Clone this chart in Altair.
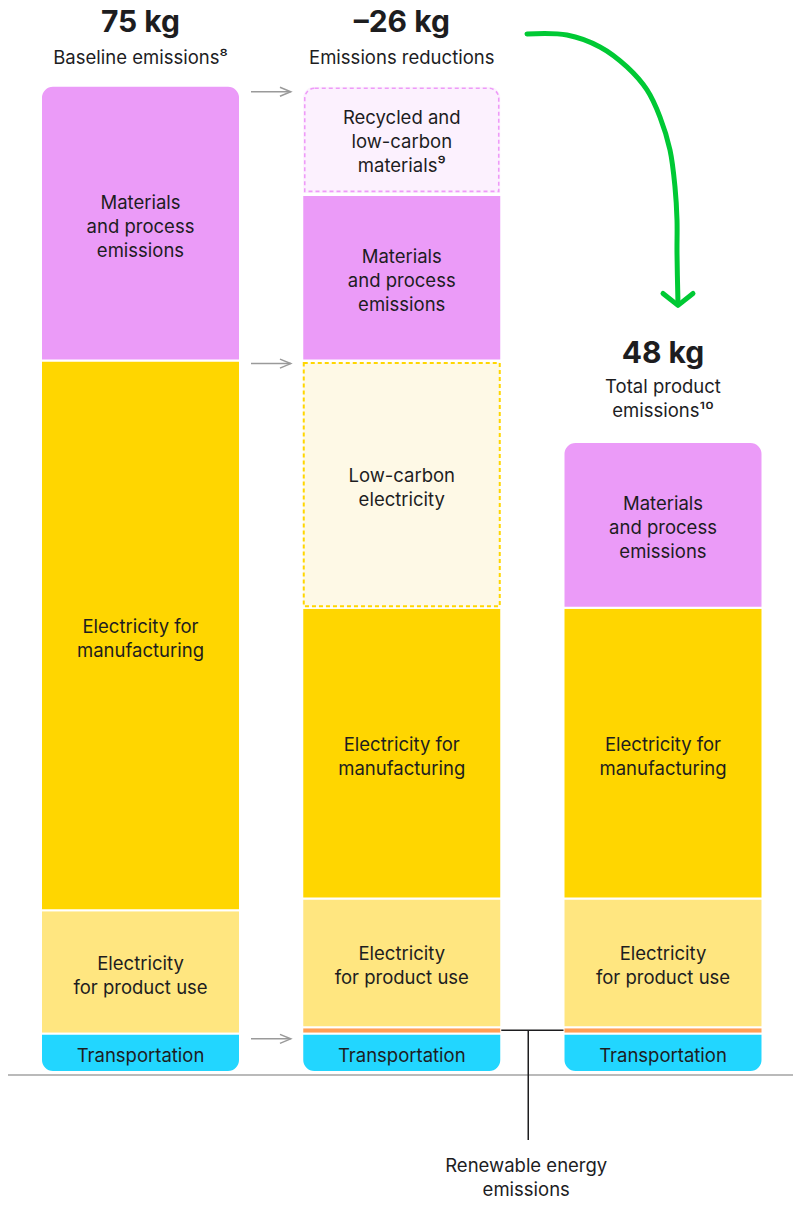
import altair as alt
import pandas as pd

# ---------------- data (kg CO2e) ----------------
col_ids = [0, 1, 2]
headlines = ["75 kg", "\u201326 kg", "48 kg"]
subtitles = ["Baseline emissions\u2078", "Emissions reductions", "Total product\nemissions\u00b9\u2070"]

baseline_segments = ["Transportation", "Electricity for product use",
                     "Electricity for manufacturing", "Materials and process emissions"]
baseline_values = [2.9, 9.4, 41.8, 20.9]

reduction_segments = ["Transportation", "Renewable energy emissions", "Electricity for product use",
                      "Electricity for manufacturing", "Low-carbon electricity",
                      "Materials and process emissions", "Recycled and low-carbon materials"]
reduction_values = [2.9, 0.5, 9.8, 22.1, 18.8, 12.6, 8.3]

total_segments = ["Transportation", "Renewable energy emissions", "Electricity for product use",
                  "Electricity for manufacturing", "Materials and process emissions"]
total_values = [2.9, 0.5, 9.8, 22.1, 12.6]

segment_labels = {
    "Transportation": "Transportation",
    "Renewable energy emissions": "",
    "Electricity for product use": "Electricity\nfor product use",
    "Electricity for manufacturing": "Electricity for\nmanufacturing",
    "Low-carbon electricity": "Low-carbon\nelectricity",
    "Materials and process emissions": "Materials\nand process\nemissions",
    "Recycled and low-carbon materials": "Recycled and\nlow-carbon\nmaterials\u2079",
}
renewable_note = "Renewable energy\nemissions"

# ---------------- styles ----------------
FILL = {
    "Transportation": "#22d6ff",
    "Renewable energy emissions": "#ff9f55",
    "Electricity for product use": "#ffe680",
    "Electricity for manufacturing": "#ffd600",
    "Materials and process emissions": "#eb9bf8",
    "Low-carbon electricity": "#fef9e6",
    "Recycled and low-carbon materials": "#fcf1fe",
}
DASH = {
    "Low-carbon electricity": "#ffd600",
    "Recycled and low-carbon materials": "#ee9bf8",
}
TEXT = "#1d1d1f"
FONT = "Inter"
LABEL_SIZE = 18.5
LINE_H = 24

# ---------------- layout ----------------
W, H = 785, 1189
PX_PER_KG = 13.15
Y_ZERO_PX = 1064
Y_MAX = Y_ZERO_PX / PX_PER_KG
Y_MIN = -(H - Y_ZERO_PX) / PX_PER_KG
COL_STEP_PX = 261.25
COL0_PX = 132.5
X_MIN = -COL0_PX / COL_STEP_PX
X_MAX = (W - COL0_PX) / COL_STEP_PX
HALF = 99.5 / COL_STEP_PX


def kg(px):
    return px / PX_PER_KG


def cu(px):
    return px / COL_STEP_PX


def first_line_y(center, text):
    # Vega places the first line of a multi-line text at y; shift so the block is centred
    n = len(text.split("\n"))
    return center + kg(LINE_H * (n - 1) / 2)


xs = alt.Scale(domain=[X_MIN, X_MAX], nice=False, zero=False)
ys = alt.Scale(domain=[Y_MIN, Y_MAX], nice=False, zero=False)


def X(f):
    return alt.X(f, type="quantitative", scale=xs, axis=None)


def Y(f):
    return alt.Y(f, type="quantitative", scale=ys, axis=None)


# ---------------- segment table ----------------
rows = []
tops = []
for c, names, vals in zip(col_ids,
                          [baseline_segments, reduction_segments, total_segments],
                          [baseline_values, reduction_values, total_values]):
    b = 0.0
    n = len(vals)
    for k, (nm, v) in enumerate(zip(names, vals)):
        lab = segment_labels[nm]
        shift = 3.5 if k < n - 1 or c != 1 else 1.5
        rows.append(dict(col=c, name=nm, y0=b, y1=b + v, x0=c - HALF, x1=c + HALF,
                         pos="bottom" if k == 0 else ("top" if k == n - 1 else "mid"),
                         dashed=nm in DASH,
                         label=lab, ymid=first_line_y(b + v / 2 - kg(shift), lab),
                         fill=FILL[nm], dash=DASH.get(nm, "none")))
        b += v
    tops.append(b)
seg = pd.DataFrame(rows)

# ---------------- titles ----------------
trows = []
for c, t, hl, st in zip(col_ids, tops, headlines, subtitles):
    lines = st.split("\n")
    n = len(lines)
    sub_last = 27.5 + 4 * (n - 1)
    for k, ln in enumerate(lines):
        trows.append(dict(col=c, y=t + kg(sub_last + LINE_H * (n - 1 - k)), text=ln, kind="sub"))
    trows.append(dict(col=c, y=t + kg(sub_last + LINE_H * (n - 1) + 35 - 2.5 * (n - 1)),
                      text=hl, kind="head"))
titles = pd.DataFrame(trows)

base = alt.Chart(seg)
layers = []

# solid segments
for pos, kw in [("mid", {}),
                ("top", dict(cornerRadiusTopLeft=12, cornerRadiusTopRight=12)),
                ("bottom", dict(cornerRadiusBottomLeft=12, cornerRadiusBottomRight=12))]:
    layers.append(
        base.transform_filter((alt.datum.pos == pos) & (alt.datum.dashed == False))
        .mark_rect(stroke="white", strokeWidth=2, **kw)
        .encode(x=X("x0"), x2="x1", y=Y("y0"), y2="y1", fill=alt.Fill("fill:N", scale=None))
    )

# dashed (removed) segments: pale fill + dashed outline
recyc = base.transform_filter(alt.datum.name == "Recycled and low-carbon materials")
lowc = base.transform_filter(alt.datum.name == "Low-carbon electricity")
layers.append(recyc.mark_rect(stroke="white", strokeWidth=2, cornerRadiusTopLeft=12,
                              cornerRadiusTopRight=12, yOffset=-1)
              .encode(x=X("x0"), x2="x1", y=Y("y0"), y2="y1", fill=alt.Fill("fill:N", scale=None)))
layers.append(recyc.mark_rect(fillOpacity=0, strokeWidth=1.6, strokeDash=[4, 3],
                              cornerRadiusTopLeft=10, cornerRadiusTopRight=10,
                              xOffset=2.5, x2Offset=-2.5, yOffset=-3.5, y2Offset=2.5)
              .encode(x=X("x0"), x2="x1", y=Y("y0"), y2="y1", stroke=alt.Stroke("dash:N", scale=None)))
layers.append(lowc.mark_rect(stroke="white", strokeWidth=2, yOffset=0, y2Offset=1)
              .encode(x=X("x0"), x2="x1", y=Y("y0"), y2="y1", fill=alt.Fill("fill:N", scale=None)))
layers.append(lowc.mark_rect(fillOpacity=0, strokeWidth=2, strokeDash=[4, 3],
                              xOffset=1.5, x2Offset=-1.5, yOffset=-1.5, y2Offset=2.5)
              .encode(x=X("x0"), x2="x1", y=Y("y0"), y2="y1", stroke=alt.Stroke("dash:N", scale=None)))

# segment labels
layers.append(
    base.transform_filter(alt.datum.label != "")
    .mark_text(font=FONT, fontSize=LABEL_SIZE, lineHeight=LINE_H, color=TEXT, align="center",
               baseline="middle", lineBreak="\n")
    .encode(x=X("col"), y=Y("ymid"), text="label:N")
)

# titles
tb = alt.Chart(titles)
layers.append(tb.transform_filter(alt.datum.kind == "head")
              .mark_text(font=FONT, fontSize=30, fontWeight="bold", color=TEXT, align="center",
                         baseline="middle")
              .encode(x=X("col"), y=Y("y"), text="text:N"))
layers.append(tb.transform_filter(alt.datum.kind == "sub")
              .mark_text(font=FONT, fontSize=LABEL_SIZE, color=TEXT, align="center", baseline="middle")
              .encode(x=X("col"), y=Y("y"), text="text:N"))

# ---------------- annotations ----------------
# ground line
ground = pd.DataFrame({"x": [X_MIN], "x2": [X_MAX], "y": [-kg(3)]})
layers.append(alt.Chart(ground).mark_rule(color="#a3a3a3", strokeWidth=1.5)
              .encode(x=X("x"), x2="x2", y=Y("y")))

# gray flow arrows from baseline to reductions column
arrow_levels = [tops[0] - kg(6), sum(baseline_values[:3]) - kg(3), baseline_values[0] - kg(5)]
arr = pd.DataFrame({"x": [HALF + cu(11)] * 3, "x2": [1 - HALF - cu(11.5)] * 3, "y": arrow_levels})
layers.append(alt.Chart(arr).mark_rule(color="#9a9a9a", strokeWidth=1.5)
              .encode(x=X("x"), x2="x2", y=Y("y")))
layers.append(alt.Chart(arr).mark_point(shape="M -2.4 -1 L 0 0 L -2.4 1", size=81, filled=False,
                                         color="#9a9a9a", strokeWidth=1.5, opacity=1)
              .encode(x=X("x2"), y=Y("y")))

# renewable energy emissions callout
ren_y = sum(reduction_values[:2]) - kg(3)
mid_x = 1 + HALF + cu(27)
ren_h = pd.DataFrame({"x": [1 + HALF], "x2": [2 - HALF], "y": [ren_y]})
ren_v = pd.DataFrame({"x": [mid_x], "y": [ren_y], "y2": [-kg(68)]})
ren_t = pd.DataFrame({"x": [mid_x - cu(2)], "y": [-kg(94)], "text": [renewable_note]})
layers.append(alt.Chart(ren_h).mark_rule(color=TEXT, strokeWidth=1.5)
              .encode(x=X("x"), x2="x2", y=Y("y")))
layers.append(alt.Chart(ren_v).mark_rule(color=TEXT, strokeWidth=1.5)
              .encode(x=X("x"), y=Y("y"), y2="y2"))
layers.append(alt.Chart(ren_t).mark_text(font=FONT, fontSize=LABEL_SIZE, lineHeight=LINE_H, color=TEXT,
                                         align="center", baseline="middle", lineBreak="\n")
              .encode(x=X("x"), y=Y("y"), text="text:N"))

# green curved arrow (annotation path in chart units)
curve_x = [1.4794, 1.6325, 1.7589, 1.8622, 1.9388, 1.9885, 2.0268, 2.0459, 2.0536, 2.0536, 2.0574]
curve_y = [78.94, 78.86, 77.95, 76.43, 74.68, 72.62, 70.11, 67.30, 64.79, 62.28, 58.40]
curve = pd.DataFrame({"x": curve_x, "y": curve_y, "o": list(range(len(curve_x)))})
head = pd.DataFrame({"x": [2.0, 2.0574, 2.1148], "y": [59.2, 58.30, 59.2], "o": [0, 1, 2]})
layers.append(alt.Chart(curve).mark_line(color="#00c934", strokeWidth=5, strokeCap="round",
                                         interpolate="catmull-rom")
              .encode(x=X("x"), y=Y("y"), order="o:Q"))
layers.append(alt.Chart(head).mark_line(color="#00c934", strokeWidth=5, strokeCap="round",
                                        strokeJoin="round")
              .encode(x=X("x"), y=Y("y"), order="o:Q"))

chart = alt.layer(*layers).properties(
    width=W, height=H, autosize=alt.AutoSizeParams(type="none"), padding=0,
    background="white"
).configure_view(stroke=None)

chart.save("out.html", embed_options={"renderer": "svg", "actions": False})
